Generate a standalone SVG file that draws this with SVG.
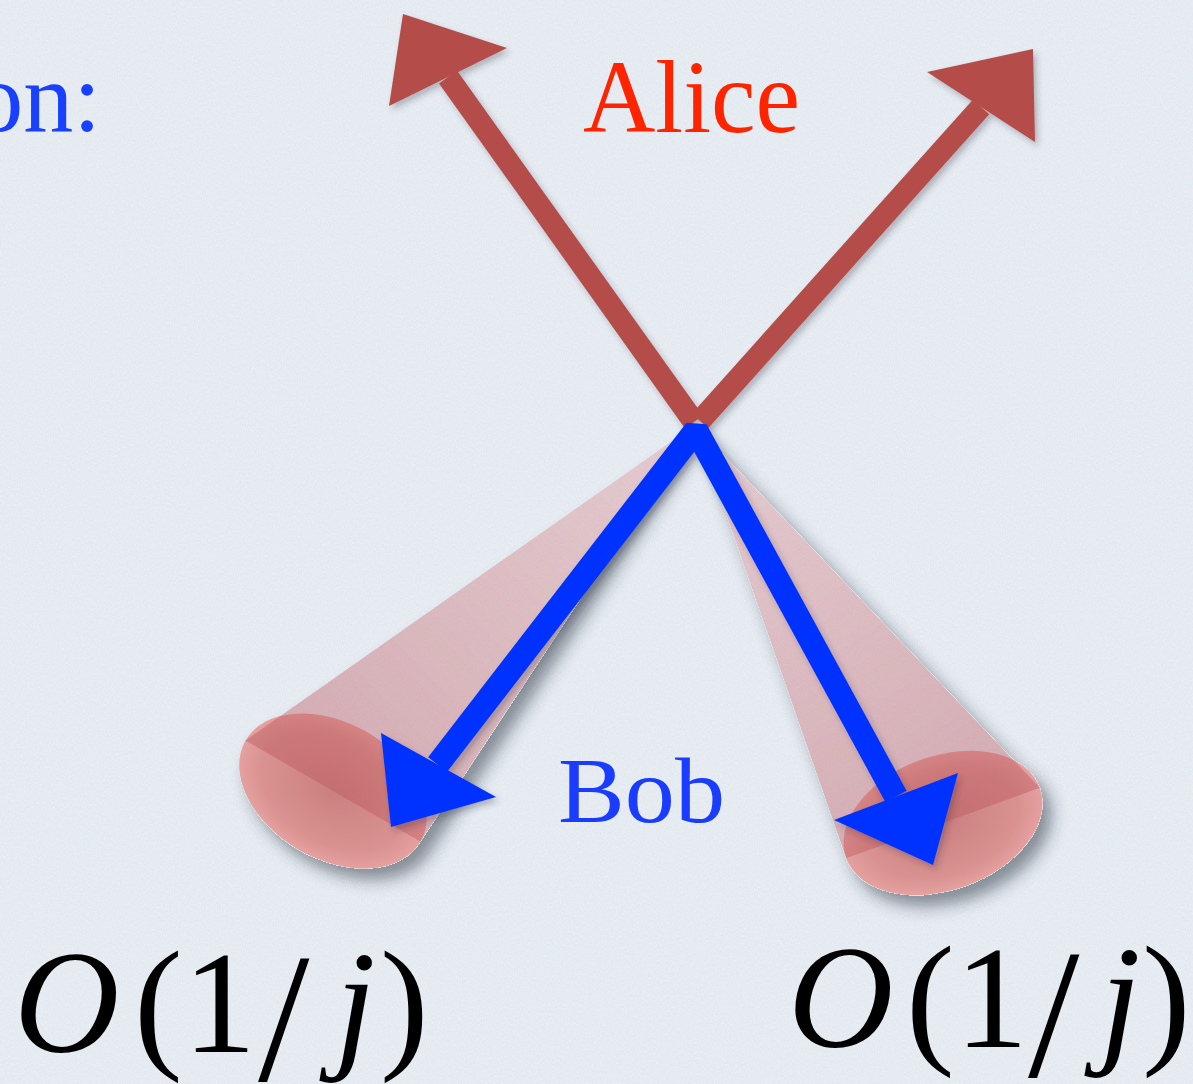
<svg xmlns="http://www.w3.org/2000/svg" width="1193" height="1084" viewBox="0 0 1193 1084">
  <defs>
    <style>
      .serif { font-family: "Liberation Serif", "Times New Roman", serif; }
      .red-shaft { stroke: #b44e48; stroke-width: 22; fill: none; stroke-linecap: butt; }
      .red-head { fill: #b44e48; }
      .blue-shaft { stroke: #0433ff; stroke-width: 24; fill: none; stroke-linecap: butt; stroke-linejoin: bevel; }
      .blue-head { fill: #0433ff; }
      .math { font-family: "Liberation Serif", "Times New Roman", serif; font-size: 146px; fill: #000; }
    </style>
    <filter id="paper" x="0" y="0" width="100%" height="100%">
      <feTurbulence type="fractalNoise" baseFrequency="0.75 0.45" numOctaves="3" seed="7"/>
      <feColorMatrix type="matrix" values="0 0 0 0 1  0 0 0 0 1  0 0 0 0 1  1.1 0 0 0 -0.4"/>
    </filter>
    <filter id="coneShadow" x="-20%" y="-20%" width="150%" height="150%">
      <feComponentTransfer in="SourceAlpha" result="solid">
        <feFuncA type="linear" slope="30"/>
      </feComponentTransfer>
      <feGaussianBlur in="solid" stdDeviation="8" result="blur"/>
      <feOffset in="blur" dx="9" dy="11" result="off"/>
      <feFlood flood-color="#25313d" flood-opacity="0.5"/>
      <feComposite in2="off" operator="in" result="sh"/>
      <feComposite in="sh" in2="solid" operator="out" result="shOut"/>
      <feMerge>
        <feMergeNode in="shOut"/>
        <feMergeNode in="SourceGraphic"/>
      </feMerge>
    </filter>
    <filter id="arrowShadow" x="-20%" y="-20%" width="140%" height="140%">
      <feDropShadow dx="3" dy="4" stdDeviation="3" flood-color="#25313d" flood-opacity="0.3"/>
    </filter>
    <radialGradient id="capGrad" cx="50%" cy="50%" r="55%">
      <stop offset="0" stop-color="#c97776"/>
      <stop offset="0.7" stop-color="#d88a88"/>
      <stop offset="1" stop-color="#eba2a0"/>
    </radialGradient>
    <linearGradient id="coneL" gradientUnits="userSpaceOnUse" x1="695" y1="425" x2="333" y2="791">
      <stop offset="0" stop-color="#d86a6c" stop-opacity="0.25"/>
      <stop offset="1" stop-color="#b8545a" stop-opacity="0.42"/>
    </linearGradient>
    <linearGradient id="coneR" gradientUnits="userSpaceOnUse" x1="695" y1="425" x2="943" y2="823">
      <stop offset="0" stop-color="#d86a6c" stop-opacity="0.25"/>
      <stop offset="1" stop-color="#b8545a" stop-opacity="0.42"/>
    </linearGradient>
  </defs>

  <g id="background">
    <rect x="0" y="0" width="1193" height="1084" fill="#e3e9f0"/>
    <rect x="0" y="0" width="1193" height="1084" filter="url(#paper)" opacity="0.6"/>
  </g>

  <g id="text-question">
    <text class="serif" x="101" y="131" font-size="100" fill="#1a40ff" text-anchor="end">on:</text>
  </g>

  <g id="cone-left" filter="url(#coneShadow)">
    <ellipse cx="333" cy="791" rx="101" ry="68" transform="rotate(30 333 791)" fill="url(#capGrad)" opacity="0.92"/>
    <polygon points="695,425 245.5,740.5 420.5,841.5" fill="url(#coneL)"/>
  </g>

  <g id="cone-right" filter="url(#coneShadow)">
    <ellipse cx="943" cy="823" rx="103" ry="67" transform="rotate(-20 943 823)" fill="url(#capGrad)" opacity="0.92"/>
    <polygon points="695,425 846.2,858.2 1039.8,787.8" fill="url(#coneR)"/>
  </g>

  <g id="connectors">
    <g id="alice-arrows" filter="url(#arrowShadow)">
      <line class="red-shaft" x1="694" y1="422" x2="448" y2="77"/>
      <polygon class="red-head" points="403,14 507,48 389,106"/>
      <line class="red-shaft" x1="700" y1="421" x2="981" y2="107"/>
      <polygon class="red-head" points="1033,49 1035,142 927,72"/>
    </g>
    <g id="bob-arrows" filter="url(#arrowShadow)">
      <polyline class="blue-shaft" points="437.6,764.5 696,430 896,796.5"/>
      <polygon class="blue-head" points="391,827 381,733 496,797"/>
      <polygon class="blue-head" points="933,865 958,773 834,820"/>
    </g>
  </g>

  <g id="label-alice">
    <text class="serif" x="583" y="132" font-size="104" fill="#ff2400" textLength="217" lengthAdjust="spacingAndGlyphs">Alice</text>
  </g>

  <g id="label-bob">
    <text class="serif" x="558" y="822" font-size="94" fill="#1a3cff" textLength="167" lengthAdjust="spacingAndGlyphs">Bob</text>
  </g>

  <g id="label-left-order">
    <text class="math" y="1052"><tspan x="14" font-style="italic">O</tspan><tspan x="134">(</tspan><tspan x="183">1</tspan><tspan x="258" y="1080" font-size="185">/</tspan><tspan x="335" y="1052" font-style="italic">j</tspan><tspan x="380">)</tspan></text>
  </g>

  <g id="label-right-order">
    <text class="math" y="1047"><tspan x="788" font-style="italic">O</tspan><tspan x="906">(</tspan><tspan x="955">1</tspan><tspan x="1028" y="1076" font-size="185">/</tspan><tspan x="1100" y="1047" font-style="italic">j</tspan><tspan x="1142">)</tspan></text>
  </g>
</svg>
